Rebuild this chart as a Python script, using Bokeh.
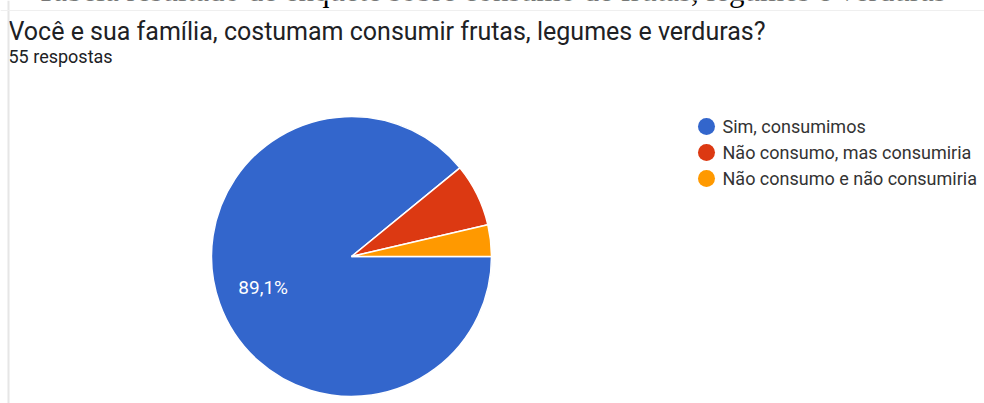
import math
from bokeh.plotting import figure
from bokeh.models import Range1d, Span, ColumnDataSource
from bokeh.core.properties import value
from bokeh.embed import file_html
from bokeh.resources import INLINE

caption = "Tabela resultado de enquete sobre consumo de frutas, legumes e verduras"
title = "Você e sua família, costumam consumir frutas, legumes e verduras?"
subtitle = "55 respostas"
categories = ["Sim, consumimos", "Não consumo, mas consumiria", "Não consumo e não consumiria"]
counts = [49, 4, 2]
colors = ["#3366CC", "#DC3912", "#FF9900"]

W, H = 984, 403
def Y(px):
    return H - px

p = figure(width=W, height=H, output_backend="svg", toolbar_location=None,
           x_range=Range1d(0, W), y_range=Range1d(0, H), min_border=0)
p.axis.visible = False
p.grid.visible = False
p.outline_line_color = None
p.background_fill_color = "white"
p.border_fill_color = "white"

# card borders
p.add_layout(Span(location=8, dimension="height", line_color="#e6e6e6", line_width=2))
p.add_layout(Span(location=Y(10), dimension="width", line_color="#efefef", line_width=1))

# caption at the top (cut by the page edge, as in the source)
p.text(x=[36], y=[Y(-10)], text=[caption], text_font=value("Liberation Serif"),
       text_font_size="31px", text_color="#000000", text_baseline="alphabetic", text_align="left")

# titles
p.text(x=[8], y=[Y(31)], text=[title], text_font=value("Roboto"),
       text_font_size="25px", text_color="#202124", text_baseline="alphabetic", text_align="left")
p.text(x=[8], y=[Y(56)], text=[subtitle], text_font=value("Roboto"),
       text_font_size="18px", text_color="#202124", text_baseline="alphabetic", text_align="left")

# pie
cx, cy, r = 351, Y(256), 140
total = sum(counts)
fracs = [c / total for c in counts]
starts, ends = [], []
acc = 0.0
for f in fracs:
    starts.append(-2 * math.pi * acc)
    acc += f
    ends.append(-2 * math.pi * acc)
src = ColumnDataSource(dict(start=starts, end=ends, color=colors,
                            x=[cx] * 3, y=[cy] * 3))
p.wedge(x="x", y="y", radius=r, radius_units="screen", start_angle="start", end_angle="end",
        direction="clock", fill_color="color", line_color="white", line_width=1.5, source=src)

# percentage label (only big slice)
mid = (starts[0] + ends[0]) / 2
lab = f"{fracs[0]*100:.1f}%".replace(".", ",")
p.text(x=[cx + 0.67 * r * math.cos(mid)], y=[cy + 0.66 * r * math.sin(mid)], text=[lab],
       text_font=value("Roboto"), text_font_size="19px", text_color="white",
       text_align="center", text_baseline="middle")

# legend
lx, ly0, dy = 706, 126, 26
ys = [Y(ly0 + i * dy) for i in range(len(categories))]
p.scatter(x=[lx] * 3, y=ys, size=17, marker="circle", fill_color=colors, line_color=None)
p.text(x=[lx + 16] * 3, y=ys, text=categories, text_font=value("Roboto"),
       text_font_size="18px", text_color="#333333", text_align="left", text_baseline="middle")

open("out.html", "w").write(file_html(p, INLINE))
